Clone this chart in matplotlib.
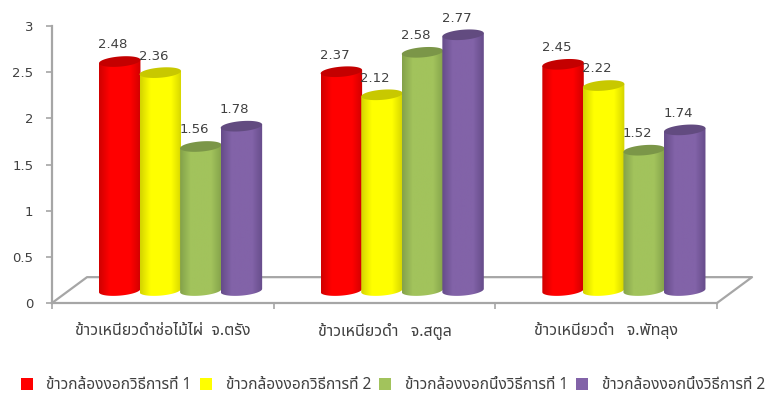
import numpy as np
import matplotlib
matplotlib.use('Agg')
import matplotlib.pyplot as plt
from matplotlib.lines import Line2D
from matplotlib.patches import PathPatch, Polygon
from matplotlib.path import Path
from matplotlib.colors import LinearSegmentedColormap

plt.rcParams['font.family'] = ['Noto Sans Thai', 'Sarabun', 'DejaVu Sans']

categories = ['ข้าวเหนียวดำช่อไม้ไผ่  จ.ตรัง', 'ข้าวเหนียวดำ   จ.สตูล', 'ข้าวเหนียวดำ   จ.พัทลุง']
series_names = ['ข้าวกล้องงอกวิธีการที่ 1', 'ข้าวกล้องงอกวิธีการที่ 2',
                'ข้าวกล้องงอกนึ่งวิธีการที่ 1', 'ข้าวกล้องงอกนึ่งวิธีการที่ 2']
method1 = [2.48, 2.37, 2.45]
method2 = [2.36, 2.12, 2.22]
steamed1 = [1.56, 2.58, 1.52]
steamed2 = [1.78, 2.77, 1.74]
yticks = [0, 0.5, 1, 1.5, 2, 2.5, 3]
yticklabels = ['0', '0.5', '1', '1.5', '2', '2.5', '3']

series = [method1, method2, steamed1, steamed2]
# body colour, edge shade, cap colour
colors = [('#ff0000', '#d00000', '#c40000'),
          ('#ffff00', '#d4d400', '#c8c800'),
          ('#a2c35c', '#84a24a', '#7b9648'),
          ('#8263a8', '#664c8a', '#624b80')]
grey = '#a6a6a6'
text_col = '#404040'

fig = plt.figure(figsize=(7.7, 3.97), dpi=100)
ax = fig.add_axes([52 / 770, 94 / 397, 665 / 770, 277 / 397])

# floor of the 3D box
depth_x = 0.158
depth_y = 0.28
ax.plot([-0.5, -0.5 + depth_x, 2.5 + depth_x, 2.5], [0, depth_y, depth_y, 0],
        color=grey, lw=1.6, clip_on=False, zorder=1)

step = 0.183
bar_w = 0.187
floor = 0.135
shift = 0.08
cap_h = 0.11
tilt = 0.018


def rim(x, y, a):
    # point on the slightly tilted ellipse at the end of a cylinder
    return (x + bar_w / 2 * np.cos(a), y + cap_h / 2 * np.sin(a) + tilt * np.cos(a))


for i, vals in enumerate(series):
    body, edge, cap = colors[i]
    cmap = LinearSegmentedColormap.from_list('cyl', [edge, body, body, body, edge])
    grad = cmap(np.linspace(0, 1, 64))[np.newaxis, :, :]
    for j, v in enumerate(vals):
        x = j + shift + (i - 1.5) * step
        top = floor + v
        left, right = x - bar_w / 2, x + bar_w / 2
        z = 3 + i
        # body is closed by the lower half of the ellipse
        lower = [rim(x, floor, a) for a in np.linspace(np.pi, 2 * np.pi, 40)]
        verts = [rim(x, top, np.pi)] + lower + [rim(x, top, 0), rim(x, top, np.pi)]
        clip = PathPatch(Path(verts), transform=ax.transData, fc='none', ec='none')
        ax.add_patch(clip)
        im = ax.imshow(grad, extent=[left, right, floor - cap_h, top + cap_h], aspect='auto',
                       zorder=z, interpolation='bilinear')
        im.set_clip_path(clip)
        rim_pts = [rim(x, top, a) for a in np.linspace(0, 2 * np.pi, 60)]
        ax.add_patch(Polygon(rim_pts, closed=True, fc=cap, ec='none', zorder=z + 0.1))
        ax.text(x - 0.03, top + 0.18, f'{v:.2f}', ha='center', va='center',
                fontsize=9.5, color=text_col, zorder=10, family='DejaVu Sans')

ax.set_xlim(-0.5, 2.5)
ax.set_ylim(0, 3)

for s in ['top', 'right']:
    ax.spines[s].set_visible(False)
for s in ['left', 'bottom']:
    ax.spines[s].set_color(grey)
    ax.spines[s].set_linewidth(1.6)

ax.set_yticks(yticks)
ax.set_yticklabels(yticklabels, fontsize=9.5, color=text_col, family='DejaVu Sans')
ax.set_xticks([-0.5, 0.5, 1.5, 2.5])
ax.set_xticklabels([])
ax.tick_params(axis='both', color=grey, width=1.2, length=4.5, pad=9)
for j, name in enumerate(categories):
    ax.text(j, -0.3, name, ha='center', va='center', fontsize=11.5, color=text_col)

handles = [Line2D([], [], ls='', marker='s', ms=8, mew=0, color=c[0]) for c in colors]
fig.legend(handles, series_names, ncol=4, loc='center', bbox_to_anchor=(0.509, 0.03),
           frameon=False, fontsize=11.1, labelcolor=text_col, columnspacing=0.42,
           handletextpad=0.78, handlelength=1, borderaxespad=0)

fig.savefig('out.png', dpi=100)
